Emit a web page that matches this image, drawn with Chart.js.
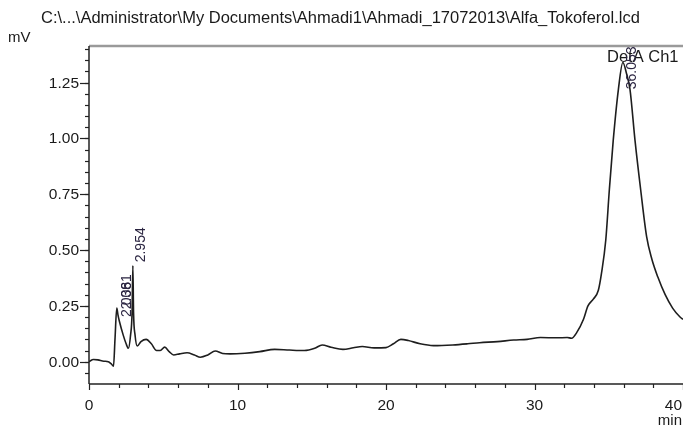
<!DOCTYPE html>
<html>
<head>
<meta charset="utf-8">
<script src="https://cdn.jsdelivr.net/npm/chart.js@4.4.1/dist/chart.umd.min.js"></script>
<style>
  html, body { margin: 0; padding: 0; background: #ffffff; overflow: hidden; }
  #chart { display: block; }
</style>
</head>
<body>
<canvas id="chart" width="683" height="426"></canvas>
<script>
const times = [
  0, 0.3, 0.6, 1.0, 1.3, 1.5, 1.65, 1.75, 1.87, 1.95, 2.05, 2.3, 2.5, 2.65, 2.8, 2.9, 2.954, 3.0, 3.1, 3.25,
  3.5, 3.85, 4.2, 4.55, 4.8, 5.1, 5.4, 5.7, 6.1, 6.6, 7.1, 7.5, 8.0, 8.5, 9.0, 9.5, 10.5, 11.5, 12.5, 13.5,
  14.5, 15.2, 15.7, 16.3, 17.1, 17.8, 18.4, 19.2, 20.0, 20.5, 21.0, 21.5, 22.3, 23.2, 24.5, 25.5, 26.3, 27.5, 28.6, 29.5,
  30.4, 31.5, 32.2, 32.5, 32.84, 33.3, 33.6, 33.96, 34.3, 34.52, 34.8, 35.04, 35.3, 35.65, 35.95, 36.2, 36.43, 36.77, 37.15, 37.55,
  37.9, 38.3, 38.8, 39.3, 39.8, 40
];
const signal = [
  0.0, 0.01, 0.008, 0.002, 0.0, -0.01, -0.02, 0.1, 0.24, 0.21, 0.18, 0.12, 0.08, 0.06, 0.12, 0.22, 0.43, 0.22, 0.12, 0.07,
  0.09, 0.1, 0.08, 0.05, 0.05, 0.065, 0.045, 0.03, 0.035, 0.04, 0.03, 0.02, 0.03, 0.048, 0.037, 0.035, 0.038, 0.045, 0.055, 0.052,
  0.05, 0.06, 0.075, 0.065, 0.055, 0.062, 0.068, 0.062, 0.063, 0.08, 0.1, 0.095, 0.08, 0.072, 0.075, 0.08, 0.085, 0.09, 0.097, 0.1,
  0.108, 0.107, 0.108, 0.105, 0.13, 0.19, 0.25, 0.28, 0.32, 0.4, 0.545, 0.77, 0.99, 1.22, 1.34, 1.29, 1.22, 0.99, 0.77, 0.56,
  0.46, 0.38, 0.30, 0.24, 0.2, 0.19
];

// Eixos
const xTicks = [0, 10, 20, 30, 40];
const xTickLabels = ['0', '10', '20', '30', '40'];
const xMinorStep = 2;
const yTicks = [0, 0.25, 0.5, 0.75, 1.0, 1.25];
const yTickLabels = ['0.00', '0.25', '0.50', '0.75', '1.00', '1.25'];
const yMinorStep = 0.05;

// Picos marcados
const peakTimes = [2.038, 2.061, 2.954, 36.053];
const peakTops = [0.20, 0.235, 0.445, 1.22];
const peakNames = ['2.038', '2.061', '2.954', '36.053'];

const titleText = 'C:\\...\\Administrator\\My Documents\\Ahmadi1\\Ahmadi_17072013\\Alfa_Tokoferol.lcd';
const FONT = '"Liberation Sans", Arial, sans-serif';

// Desenha eixos, textos e rótulos dos picos
const chromPlugin = {
  id: 'chromPlugin',
  afterDraw(chart) {
    const ctx = chart.ctx;
    const xs = chart.scales.x;
    const ys = chart.scales.y;
    const area = chart.chartArea;
    ctx.save();

    // borda superior cinza
    ctx.strokeStyle = '#9a9a9a';
    ctx.lineWidth = 2.5;
    ctx.beginPath();
    ctx.moveTo(area.left, area.top);
    ctx.lineTo(area.right, area.top);
    ctx.stroke();

    // eixo y
    ctx.strokeStyle = '#222';
    ctx.lineWidth = 1.5;
    ctx.beginPath();
    ctx.moveTo(area.left, area.top);
    ctx.lineTo(area.left, area.bottom);
    ctx.stroke();
    // eixo x
    ctx.beginPath();
    ctx.moveTo(area.left, area.bottom);
    ctx.lineTo(area.right, area.bottom);
    ctx.stroke();

    // ticks menores y
    ctx.lineWidth = 1.2;
    for (let v = -0.05; v <= ys.max + 1e-9; v += yMinorStep) {
      const py = Math.round(ys.getPixelForValue(v)) + 0.5;
      ctx.beginPath();
      ctx.moveTo(area.left - 4, py);
      ctx.lineTo(area.left, py);
      ctx.stroke();
    }
    // ticks maiores y
    ctx.fillStyle = '#1a1a1a';
    ctx.font = '15.5px ' + FONT;
    ctx.textAlign = 'right';
    ctx.textBaseline = 'middle';
    yTicks.forEach((v, i) => {
      const py = Math.round(ys.getPixelForValue(v)) + 0.5;
      ctx.beginPath();
      ctx.moveTo(area.left - 9, py);
      ctx.lineTo(area.left, py);
      ctx.stroke();
      ctx.fillText(yTickLabels[i], area.left - 10, py);
    });

    // ticks x
    for (let t = 0; t <= xs.max + 1e-9; t += xMinorStep) {
      const px = Math.round(xs.getPixelForValue(t)) + 0.5;
      const major = Math.abs(t % 10) < 1e-9;
      ctx.beginPath();
      ctx.moveTo(px, area.bottom);
      ctx.lineTo(px, area.bottom + (major ? 6 : 4));
      ctx.stroke();
    }
    ctx.textBaseline = 'middle';
    xTicks.forEach((t, i) => {
      const px = xs.getPixelForValue(t);
      const w = ctx.measureText(xTickLabels[i]).width;
      let cx = px;
      if (cx + w / 2 > chart.width - 1) cx = chart.width - 1 - w / 2;
      ctx.textAlign = 'center';
      ctx.fillText(xTickLabels[i], cx, area.bottom + 22);
    });

    // unidades
    ctx.font = '15px ' + FONT;
    ctx.textAlign = 'left';
    ctx.fillText('mV', 8, 38);
    ctx.textAlign = 'right';
    ctx.fillText('min', chart.width - 1, 421);

    // título (ajustado à largura do original)
    ctx.font = '16.5px ' + FONT;
    ctx.textAlign = 'left';
    ctx.fillText(titleText, 41, 18, 601);

    // canal
    ctx.font = '16.5px ' + FONT;
    ctx.fillText('DetA Ch1', 607, 57);

    // rótulos dos picos (girados)
    ctx.font = '14px ' + FONT;
    ctx.fillStyle = '#2a2440';
    peakTimes.forEach((t, i) => {
      const px = xs.getPixelForValue(t) + 8;
      const py = ys.getPixelForValue(peakTops[i]);
      ctx.save();
      ctx.translate(px, py);
      ctx.rotate(-Math.PI / 2);
      ctx.textAlign = 'left';
      ctx.textBaseline = 'middle';
      ctx.fillText(peakNames[i], 0, 0);
      ctx.restore();
    });

    ctx.restore();
  }
};

const ctx = document.getElementById('chart').getContext('2d');
new Chart(ctx, {
  type: 'line',
  data: {
    datasets: [{
      data: times.map((t, i) => ({ x: t, y: signal[i] })),
      borderColor: '#1e1e1e',
      borderWidth: 1.6,
      pointRadius: 0,
      cubicInterpolationMode: 'monotone',
      fill: false
    }]
  },
  options: {
    responsive: false,
    animation: false,
    devicePixelRatio: 1,
    layout: { padding: { left: 89, top: 46, right: 0, bottom: 42 } },
    plugins: { legend: { display: false }, tooltip: { enabled: false } },
    scales: {
      x: { type: 'linear', min: 0, max: 40, display: false },
      y: { type: 'linear', min: -0.1, max: 1.414, display: false }
    }
  },
  plugins: [chromPlugin]
});
</script>
</body>
</html>
